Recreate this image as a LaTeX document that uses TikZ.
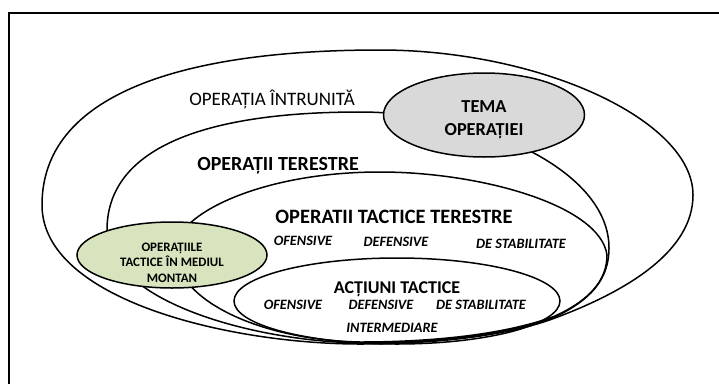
\documentclass[tikz,border=0pt]{standalone}
\usepackage{fontspec}
\setmainfont{Carlito}
\usetikzlibrary{shapes.geometric}
\definecolor{greenfill}{RGB}{215,228,189}
\definecolor{grayfill}{RGB}{217,217,217}
\tikzset{
  ring/.style={draw=black, line width=1.5pt},
  blob/.style={ellipse, draw=black, line width=1.5pt, inner sep=0pt},
  lbl/.style={inner sep=0pt, align=center, anchor=base},
  sub/.style={inner sep=0pt, anchor=base, font=\bfseries\itshape\fontsize{14.3}{15}\selectfont},
}
\begin{document}
\begin{tikzpicture}[x=1pt,y=-1pt]
\useasboundingbox (0,0) rectangle (719,383);
\fill[white] (0,0) rectangle (719,383);
\begin{scope}
\clip (0,0) rectangle (719,383);
\draw[line width=2.4pt] (9,13) rectangle (740,400);
\end{scope}
% outer: operatia intrunita
\draw[ring] (693,195) .. controls (693,120) and (540,50) .. (380,50)
  .. controls (180,50) and (42,95) .. (42,205)
  .. controls (42,300) and (230,344) .. (360,344)
  .. controls (440,344) and (510,335) .. (555,318)
  .. controls (630,290) and (693,250) .. (693,195) -- cycle;
% operatii terestre
\draw[ring] (609,248) .. controls (609,170) and (480,112) .. (360,112)
  .. controls (200,112) and (107,150) .. (107,230)
  .. controls (107,300) and (250,341) .. (360,343)
  .. controls (440,343) and (510,334) .. (555,317)
  .. controls (590,300) and (609,280) .. (609,248) -- cycle;
% operatii tactice terestre
\draw[ring] (607,255) .. controls (600,205) and (480,172) .. (380,172)
  .. controls (260,172) and (175,215) .. (175,250)
  .. controls (175,300) and (260,340) .. (360,342)
  .. controls (440,342) and (510,333) .. (555,316)
  .. controls (590,300) and (607,280) .. (607,255) -- cycle;
% actiuni tactice
\node[blob, minimum width=326pt, minimum height=86pt] (act) at (397,301) {};
% green and gray ellipses
\node[blob, fill=greenfill, minimum width=190pt, minimum height=66pt] (mont) at (172,255) {};
\node[blob, fill=grayfill, minimum width=201pt, minimum height=84pt] (tema) at (484,115) {};
% texts
\node[lbl, font=\fontsize{19}{20}\selectfont] (t1) at (272,105) {OPERAȚIA ÎNTRUNITĂ};
\node[lbl, font=\bfseries\fontsize{20}{21}\selectfont] (t2) at (278,170) {OPERAȚII TERESTRE};
\node[lbl, anchor=north, font=\bfseries\fontsize{18.3}{23}\selectfont] (t3) at (484,100.5) {TEMA\\OPERAȚIEI};
\node[lbl, font=\bfseries\fontsize{20.4}{21}\selectfont] (t4) at (394,223) {OPERATII TACTICE TERESTRE};
\node[sub] (o1) at (303,245) {OFENSIVE};
\node[sub] (d1) at (396,246) {DEFENSIVE};
\node[sub] (s1) at (521,248) {DE STABILITATE};
\node[lbl, font=\bfseries\fontsize{18}{19}\selectfont] (t5) at (397,293) {ACȚIUNI TACTICE};
\node[sub] (o2) at (293,309) {OFENSIVE};
\node[sub] (d2) at (381,309) {DEFENSIVE};
\node[sub] (s2) at (481,309) {DE STABILITATE};
\node[sub] (i2) at (392,332) {INTERMEDIARE};
\node[lbl, anchor=north, font=\bfseries\fontsize{12.9}{15.5}\selectfont] (t6) at (172,242.5) {OPERAȚIILE\\TACTICE ÎN MEDIUL\\MONTAN};
\end{tikzpicture}
\end{document}
